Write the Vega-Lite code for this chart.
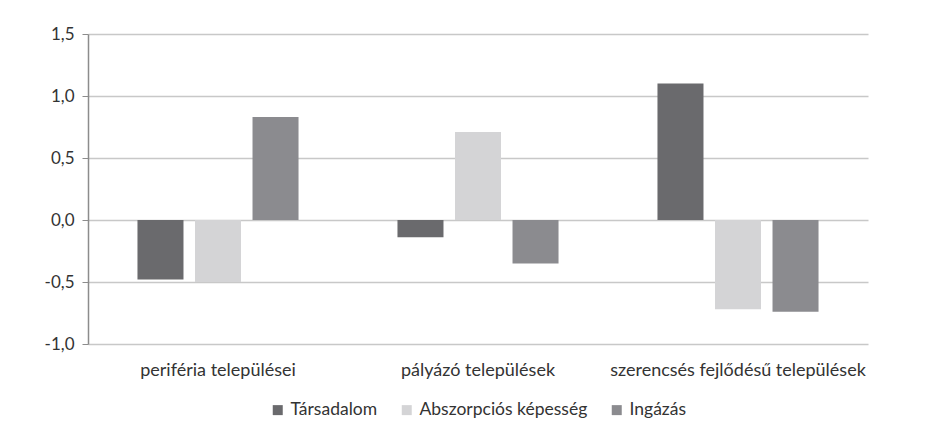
{
  "$schema": "https://vega.github.io/schema/vega-lite/v6.json",
  "width": 780,
  "height": 310,
  "padding": {"left": 44, "top": 25, "right": 60, "bottom": 0},
  "background": "white",
  "config": {
    "locale": {"number": {"decimal": ",", "thousands": " ", "grouping": [3], "currency": ["", ""], "minus": "-"}},
    "font": "Lato",
    "view": {"stroke": null},
    "legend": {"layout": {"bottom": {"anchor": "middle"}}}
  },
  "data": {
    "values": [
      {"cat": "periféria települései", "series": "Társadalom", "value": -0.48},
      {"cat": "periféria települései", "series": "Abszorpciós képesség", "value": -0.50},
      {"cat": "periféria települései", "series": "Ingázás", "value": 0.83},
      {"cat": "pályázó települések", "series": "Társadalom", "value": -0.14},
      {"cat": "pályázó települések", "series": "Abszorpciós képesség", "value": 0.71},
      {"cat": "pályázó települések", "series": "Ingázás", "value": -0.35},
      {"cat": "szerencsés fejlődésű települések", "series": "Társadalom", "value": 1.10},
      {"cat": "szerencsés fejlődésű települések", "series": "Abszorpciós képesség", "value": -0.72},
      {"cat": "szerencsés fejlődésű települések", "series": "Ingázás", "value": -0.74}
    ]
  },
  "encoding": {
    "x": {
      "field": "cat", "type": "nominal", "sort": null,
      "scale": {"paddingInner": 0, "paddingOuter": 0},
      "axis": {"title": null, "labelAngle": 0, "domain": false, "ticks": false, "grid": false,
               "labelFontSize": 18, "labelColor": "#333333", "labelPadding": 17, "labelLimit": 400}
    }
  },
  "layer": [
    {
      "mark": {"type": "bar"},
      "encoding": {
        "xOffset": {"field": "series", "type": "nominal", "sort": ["Társadalom", "Abszorpciós képesség", "Ingázás"],
                    "scale": {"paddingInner": 0.2, "paddingOuter": 0.86}},
        "y": {
          "field": "value", "type": "quantitative",
          "scale": {"domain": [-1, 1.5], "nice": false, "zero": false},
          "axis": {"title": null, "values": [-1, -0.5, 0, 0.5, 1, 1.5], "format": ".1f",
                   "gridColor": "#c8c8c8", "gridWidth": 1.5, "domainColor": "#8c8c8c", "domainWidth": 1.5,
                   "tickColor": "#8c8c8c", "tickSize": 6, "labelFontSize": 17, "labelColor": "#333333",
                   "labelPadding": 8, "minExtent": 40, "maxExtent": 40}
        },
        "color": {
          "field": "series", "type": "nominal",
          "scale": {"domain": ["Társadalom", "Abszorpciós képesség", "Ingázás"], "range": ["#6a6a6d", "#d4d4d6", "#8b8b8f"]},
          "legend": {"title": null, "orient": "bottom", "direction": "horizontal", "symbolType": "square",
                     "symbolSize": 100, "labelFontSize": 17.5, "labelColor": "#333333", "columnPadding": 20,
                     "offset": 22, "symbolStrokeWidth": 0, "labelLimit": 300}
        }
      }
    },
    {
      "mark": {"type": "rule", "color": "#8c8c8c", "strokeWidth": 1.5},
      "encoding": {"y": {"datum": 0}}
    }
  ]
}
